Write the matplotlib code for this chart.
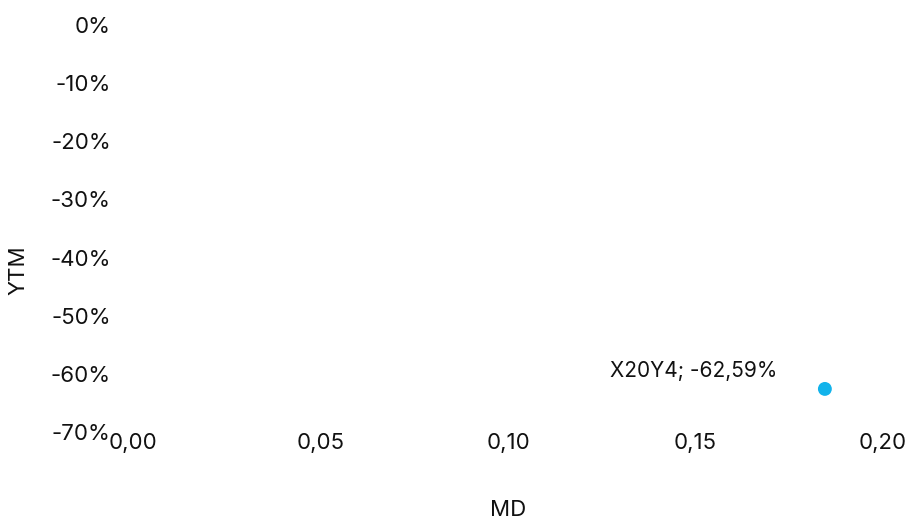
import matplotlib
matplotlib.use("Agg")
import matplotlib.pyplot as plt
from matplotlib.ticker import FuncFormatter

plt.rcParams['font.family'] = ['Inter', 'DejaVu Sans']

# data
names = ["X20Y4"]
md = [0.1845]
ytm = [-62.59]
x_ticks = [0.00, 0.05, 0.10, 0.15, 0.20]
y_ticks = [0, -10, -20, -30, -40, -50, -60, -70]

TXT = '#111111'
fig = plt.figure(figsize=(9.19, 5.30), dpi=100)
ax = fig.add_axes([133/919, 1-432/530, (883-133)/919, (432-25)/530])

ax.scatter(md, ytm, s=100, color='#12b3eb', edgecolors='none', zorder=3)
for n, x, y in zip(names, md, ytm):
    ax.annotate(f"{n}; {y:.2f}%".replace('.', ','), (x, y), xytext=(-34, 13),
                textcoords='offset points', ha='right', va='center', fontsize=15, color=TXT)

ax.set_xlim(0, 0.2)
ax.set_ylim(-70, 0)
ax.set_xticks(x_ticks)
ax.set_yticks(y_ticks)
ax.xaxis.set_major_formatter(FuncFormatter(lambda v, p: f"{v:.2f}".replace('.', ',')))
ax.yaxis.set_major_formatter(FuncFormatter(lambda v, p: f"{v:.0f}%"))
for s in ax.spines.values():
    s.set_visible(False)
ax.tick_params(axis='both', length=0, labelsize=16, colors=TXT)
ax.tick_params(axis='y', pad=16)
ax.tick_params(axis='x', pad=1)
ax.set_xlabel("MD", fontsize=16, color=TXT)
ax.set_ylabel("YTM", fontsize=16, color=TXT)
ax.yaxis.set_label_coords(-115/750, (432-270)/407)
ax.xaxis.set_label_coords(0.5, -(510-432)/407)
ax.yaxis.label.set_va('center')
ax.xaxis.label.set_va('center')

fig.savefig("out.png", dpi=100)
